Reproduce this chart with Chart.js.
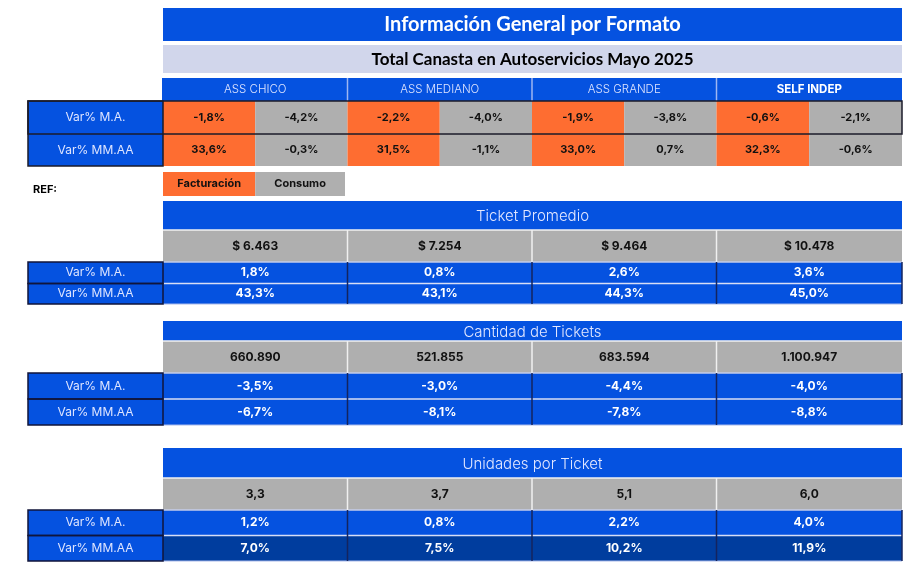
<!DOCTYPE html>
<html>
<head>
<meta charset="utf-8">
<script src="https://cdn.jsdelivr.net/npm/chart.js@4.4.1/dist/chart.umd.min.js"></script>
<style>
  html, body { margin: 0; padding: 0; background: #fff; }
  #wrap { width: 918px; height: 570px; position: relative; }
</style>
</head>
<body>
<div id="wrap"><canvas id="tabla"></canvas></div>
<script>
// datos
var formatos = ['ASS CHICO', 'ASS MEDIANO', 'ASS GRANDE', 'SELF INDEP'];
var filas = ['Var% M.A.', 'Var% MM.AA'];
var factMA = [-1.8, -2.2, -1.9, -0.6];
var consMA = [-4.2, -4.0, -3.8, -2.1];
var factMMAA = [33.6, 31.5, 33.0, 32.3];
var consMMAA = [-0.3, -1.1, 0.7, -0.6];
var ticketProm = [6463, 7254, 9464, 10478];
var ticketMA = [1.8, 0.8, 2.6, 3.6];
var ticketMMAA = [43.3, 43.1, 44.3, 45.0];
var cantTickets = [660890, 521855, 683594, 1100947];
var cantMA = [-3.5, -3.0, -4.4, -4.0];
var cantMMAA = [-6.7, -8.1, -7.8, -8.8];
var unidTicket = [3.3, 3.7, 5.1, 6.0];
var unidMA = [1.2, 0.8, 2.2, 4.0];
var unidMMAA = [7.0, 7.5, 10.2, 11.9];

var titulo = 'Información General por Formato';
var subtitulo = 'Total Canasta en Autoservicios Mayo 2025';
var refLabels = ['Facturación', 'Consumo'];

// formatos de numeros
function pct(v) { return v.toFixed(1).replace('.', ',') + '%'; }
function dec(v) { return v.toFixed(1).replace('.', ','); }
function miles(v) { return String(v).replace(/\B(?=(\d{3})+(?!\d))/g, '.'); }
function pesos(v) { return '$ ' + miles(v); }

// layout (unidades de la escala)
var colX = [163, 347.5, 532, 716.5, 902];
var labX = [28, 163];
var secciones = [
    { nombre: 'Ticket Promedio', valores: ticketProm, fmt: pesos, ma: ticketMA, mmaa: ticketMMAA,
      y: [201, 230, 262, 283.5, 304], dark: false },
    { nombre: 'Cantidad de Tickets', valores: cantTickets, fmt: miles, ma: cantMA, mmaa: cantMMAA,
      y: [321, 341, 373, 399, 425], dark: false },
    { nombre: 'Unidades por Ticket', valores: unidTicket, fmt: dec, ma: unidMA, mmaa: unidMMAA,
      y: [448, 478, 510, 535.5, 561], dark: true }
];

var AZUL = '#0552e0';
var AZUL_OSC = '#003d9e';
var NARANJA = '#fe6d31';
var GRIS = '#afafaf';
var LILA = '#d1d6eb';

var tablaPlugin = {
    id: 'tabla',
    afterDraw: function(chart) {
        var ctx = chart.ctx;
        var xs = chart.scales.x, ys = chart.scales.y;
        function px(v) { return xs.getPixelForValue(v); }
        function py(v) { return ys.getPixelForValue(v); }
        function rect(x0, y0, x1, y1, color) {
            ctx.fillStyle = color;
            ctx.fillRect(px(x0), py(y0), px(x1) - px(x0), py(y1) - py(y0));
        }
        function line(x0, y0, x1, y1, color, w) {
            ctx.strokeStyle = color;
            ctx.lineWidth = w;
            ctx.beginPath();
            ctx.moveTo(px(x0), py(y0));
            ctx.lineTo(px(x1), py(y1));
            ctx.stroke();
        }
        function text(t, x, y, font, color, align) {
            ctx.font = font;
            ctx.fillStyle = color;
            ctx.textAlign = align || 'center';
            ctx.textBaseline = 'middle';
            ctx.fillText(t, px(x), py(y));
        }
        ctx.save();

        // titulo
        rect(colX[0], 8, colX[4], 41, AZUL);
        text(titulo, (colX[0] + colX[4]) / 2, 25, 'bold 20px Lato', '#fff');
        rect(colX[0], 45, colX[4], 73, LILA);
        text(subtitulo, (colX[0] + colX[4]) / 2, 59.5, 'bold 17px Lato', '#000');

        // encabezado formatos
        rect(162, 78, colX[4], 101, AZUL);
        formatos.forEach(function(f, i) {
            var cx = (colX[i] + colX[i + 1]) / 2;
            var bold = i == 3;
            text(f, cx, 90, (bold ? 'bold ' : '300 ') + '11.5px Inter', bold ? '#fff' : '#dfe5ff');
            if (i > 0) line(colX[i], 78, colX[i], 101, '#9fb6f2', 1.5);
        });

        // filas facturacion / consumo
        var filasTop = [[factMA, consMA], [factMMAA, consMMAA]];
        var yTop = [101, 134, 166];
        filasTop.forEach(function(par, r) {
            var y0 = yTop[r], y1 = yTop[r + 1];
            rect(labX[0], y0, labX[1], y1, AZUL);
            text(filas[r], (labX[0] + labX[1]) / 2, (y0 + y1) / 2, '12px Inter', '#dfe5ff');
            for (var i = 0; i < 4; i++) {
                var xm = (colX[i] + colX[i + 1]) / 2;
                rect(colX[i], y0, xm, y1, NARANJA);
                rect(xm, y0, colX[i + 1], y1, GRIS);
                text(pct(par[0][i]), (colX[i] + xm) / 2, (y0 + y1) / 2, 'bold 11px Inter', '#111');
                text(pct(par[1][i]), (xm + colX[i + 1]) / 2, (y0 + y1) / 2, 'bold 11px Inter', '#111');
            }
        });
        ctx.strokeStyle = '#1b1b2a';
        ctx.lineWidth = 1.5;
        ctx.strokeRect(px(labX[0]), py(101), px(labX[1]) - px(labX[0]), py(166) - py(101));
        ctx.strokeRect(px(labX[0]), py(101), px(colX[4]) - px(labX[0]), py(134) - py(101));

        // referencia
        text('REF:', 33, 190, 'bold 11px Inter', '#000', 'left');
        var xm0 = (colX[0] + colX[1]) / 2;
        rect(colX[0], 172, xm0, 196, NARANJA);
        rect(xm0, 172, 345, 196, GRIS);
        text(refLabels[0], (colX[0] + xm0) / 2, 184, 'bold 11px Inter', '#111');
        text(refLabels[1], (xm0 + 345) / 2, 184, 'bold 11px Inter', '#111');

        // secciones
        secciones.forEach(function(s) {
            var y = s.y;
            rect(colX[0], y[0], colX[4], y[1], AZUL);
            text(s.nombre, (colX[0] + colX[4]) / 2, (y[0] + y[1]) / 2 + 1, '300 15px Inter', '#e3e7ff');
            rect(colX[0], y[1], colX[4], y[2], GRIS);
            rect(colX[0], y[2], colX[4], y[3], AZUL);
            rect(colX[0], y[3], colX[4], y[4], s.dark ? AZUL_OSC : AZUL);
            line(colX[0], y[1], colX[4], y[1], '#f2f2f2', 1.5);
            line(colX[0], y[2], colX[4], y[2], '#c5ccea', 1.5);
            line(colX[0], y[3], colX[4], y[3], '#d8def5', 1.5);
            line(colX[0], y[4], colX[4], y[4], '#a9b9ea', 1);
            for (var i = 0; i < 4; i++) {
                var cx = (colX[i] + colX[i + 1]) / 2;
                if (i > 0) {
                    line(colX[i], y[1], colX[i], y[2], '#f0f0f0', 1.5);
                    line(colX[i], y[2], colX[i], y[4], '#14245e', 1.5);
                }
                text(s.fmt(s.valores[i]), cx, (y[1] + y[2]) / 2, 'bold 12px Inter', '#111');
                text(pct(s.ma[i]), cx, (y[2] + y[3]) / 2, 'bold 12px Inter', '#fff');
                text(pct(s.mmaa[i]), cx, (y[3] + y[4]) / 2, 'bold 12px Inter', '#fff');
            }
            line(colX[4], y[2], colX[4], y[4], '#14245e', 1.5);
            // etiquetas de fila
            rect(labX[0], y[2], labX[1], y[4], AZUL);
            text(filas[0], (labX[0] + labX[1]) / 2, (y[2] + y[3]) / 2, '12px Inter', '#dfe5ff');
            text(filas[1], (labX[0] + labX[1]) / 2, (y[3] + y[4]) / 2, '12px Inter', '#dfe5ff');
            ctx.strokeStyle = '#10153a';
            ctx.lineWidth = 1.5;
            ctx.strokeRect(px(labX[0]), py(y[2]), px(labX[1]) - px(labX[0]), py(y[3]) - py(y[2]));
            ctx.strokeRect(px(labX[0]), py(y[3]), px(labX[1]) - px(labX[0]), py(y[4]) - py(y[3]));
        });

        ctx.restore();
    }
};

new Chart(document.getElementById('tabla'), {
    type: 'scatter',
    data: { datasets: [{ data: [] }] },
    options: {
        responsive: true,
        maintainAspectRatio: false,
        animation: false,
        layout: { padding: 0 },
        plugins: { legend: { display: false }, tooltip: { enabled: false } },
        scales: {
            x: { type: 'linear', min: 0, max: 918, display: false },
            y: { type: 'linear', min: 0, max: 570, reverse: true, display: false }
        }
    },
    plugins: [tablaPlugin]
});
</script>
</body>
</html>
